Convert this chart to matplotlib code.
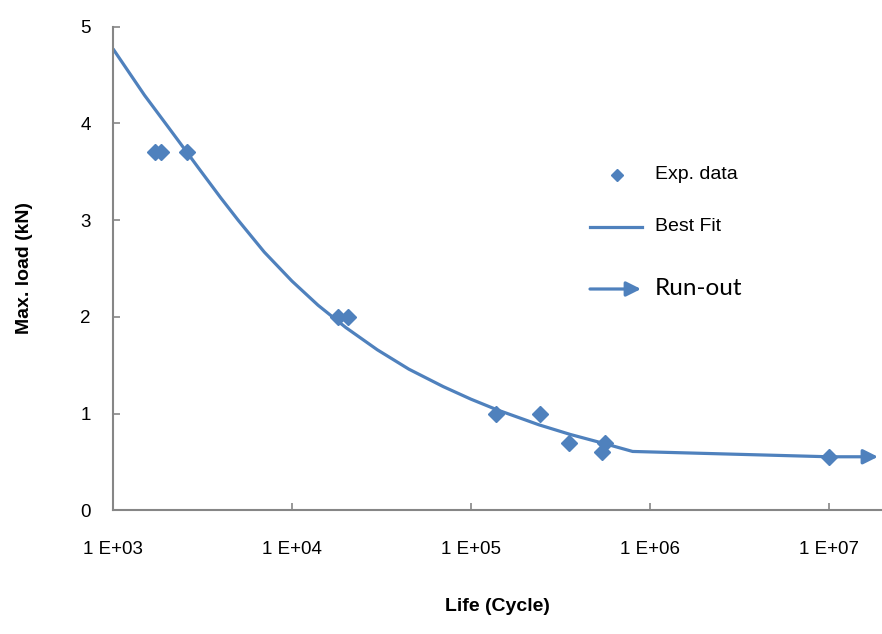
import matplotlib
matplotlib.use("Agg")
import matplotlib.pyplot as plt
from matplotlib.ticker import FixedLocator, FuncFormatter, NullLocator

plt.rcParams['font.family'] = ['Liberation Sans', 'DejaVu Sans']

# Experimental data
exp_life = [1720, 1860, 2590, 18100, 20600, 138000, 243000, 352000, 540000, 561000, 1.0e7]
exp_load = [3.70, 3.70, 3.70, 2.00, 2.00, 1.00, 1.00, 0.70, 0.60, 0.70, 0.555]

# Best fit curve
fit_life = [1000, 1500, 2000, 2590, 3000, 4000, 5000, 7000, 10000, 14000, 20000, 30000,
            45000, 70000, 100000, 140000, 240000, 360000, 560000, 800000, 1.0e7]
fit_load = [4.77, 4.29, 3.98, 3.70, 3.54, 3.23, 3.00, 2.67, 2.37, 2.12, 1.89, 1.66,
            1.46, 1.28, 1.15, 1.04, 0.885, 0.785, 0.69, 0.61, 0.555]

# Run-out
runout_life = [1.0e7, 1.88e7]
runout_load = [0.555, 0.555]

xticks = [1e3, 1e4, 1e5, 1e6, 1e7]
xtick_labels = ["1 E+03", "1 E+04", "1 E+05", "1 E+06", "1 E+07"]
yticks = [0, 1, 2, 3, 4, 5]

blue = "#4F81BD"
gray = "#868686"

fig = plt.figure(figsize=(8.82, 6.34), dpi=100)
ax = fig.add_axes([0.1281, 0.1948, 0.8719, 0.7634])

ax.plot(fit_life, fit_load, color=blue, lw=2.3, solid_capstyle='butt', solid_joinstyle='round', zorder=2)
ax.plot(exp_life, exp_load, linestyle='none', marker='D', color=blue, markersize=8, zorder=3)
ax.annotate('', xy=(runout_life[1], runout_load[1]), xytext=(runout_life[0], runout_load[0]),
            arrowprops=dict(arrowstyle='-|>', color=blue, lw=2.3, mutation_scale=22, shrinkA=0, shrinkB=0),
            annotation_clip=False, zorder=2)

ax.set_xscale('log')
ax.set_xlim(1e3, 1.98e7)
ax.set_ylim(0, 5)
ax.xaxis.set_major_locator(FixedLocator(xticks))
ax.xaxis.set_minor_locator(NullLocator())
ax.xaxis.set_major_formatter(FuncFormatter(lambda v, p: xtick_labels[xticks.index(v)] if v in xticks else ""))
ax.set_yticks(yticks)

for s in ['top', 'right']:
    ax.spines[s].set_visible(False)
for s in ['left', 'bottom']:
    ax.spines[s].set_color(gray)
    ax.spines[s].set_linewidth(1.5)
ax.tick_params(axis='both', direction='in', length=5, width=1.2, color=gray, labelsize=13.5)
ax.tick_params(axis='y', pad=16)
ax.tick_params(axis='x', pad=22)

ax.set_ylabel("Max. load (kN)", fontsize=14, fontweight='bold', labelpad=34)
ax.set_xlabel("Life (Cycle)", fontsize=14, fontweight='bold', labelpad=29)

# Manual legend
def fx(px):
    return (px - 113) / 769.0
def fy(py):
    return (510.5 - py) / 484.0

ax.plot([fx(617)], [fy(175)], transform=ax.transAxes, marker='D', color=blue, markersize=6.5, linestyle='none', clip_on=False)
ax.text(fx(655), fy(175), "Exp. data", transform=ax.transAxes, fontsize=14, va='center', ha='left')
ax.plot([fx(590), fx(642)], [fy(227), fy(227)], transform=ax.transAxes, color=blue, lw=2.3, clip_on=False)
ax.text(fx(655), fy(227), "Best Fit", transform=ax.transAxes, fontsize=14, va='center', ha='left')
ax.annotate('', xy=(fx(641), fy(289)), xytext=(fx(590), fy(289)), xycoords='axes fraction', textcoords='axes fraction',
            arrowprops=dict(arrowstyle='-|>', color=blue, lw=2.3, mutation_scale=22, shrinkA=0, shrinkB=0))
ax.text(fx(655), fy(289), "Run-out", transform=ax.transAxes, fontsize=17.5, va='center', ha='left', family=['Lato', 'DejaVu Sans'])

fig.savefig("out.png", dpi=100)
